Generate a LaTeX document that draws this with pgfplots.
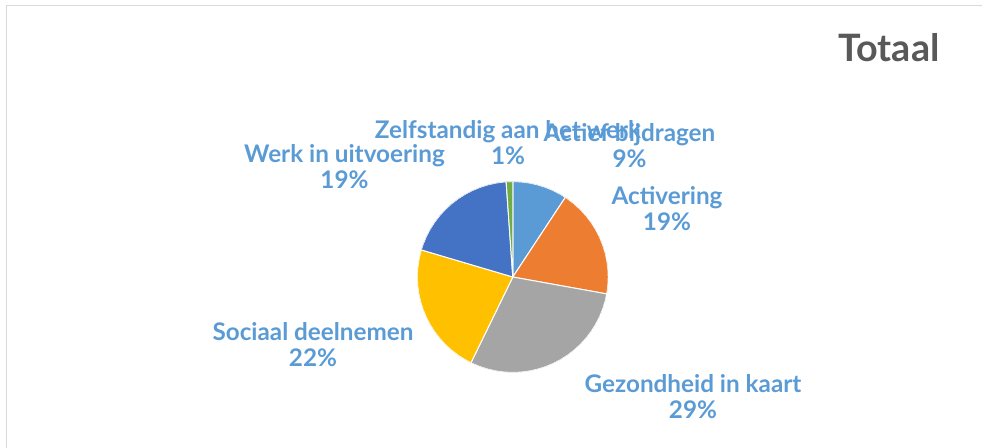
\documentclass[border=0pt]{standalone}
\usepackage{fontspec}
\setmainfont{Lato}
\usepackage{pgfplots}
\pgfplotsset{compat=1.18}
\usepgfplotslibrary{polar}
\definecolor{cA}{HTML}{5B9BD5}
\definecolor{cB}{HTML}{ED7D31}
\definecolor{cC}{HTML}{A5A5A5}
\definecolor{cD}{HTML}{FFC000}
\definecolor{cE}{HTML}{4472C4}
\definecolor{cF}{HTML}{70AD47}
\definecolor{lbl}{HTML}{5B9BD5}
\definecolor{ttl}{HTML}{595959}
\definecolor{frame}{HTML}{D9D9D9}
\begin{document}
\begin{tikzpicture}
\begin{scope}[x=0.75pt,y=-0.75pt]
\path[use as bounding box] (0,0) rectangle (982,448);
\draw[frame,line width=1.1pt] (6.5,448) -- (6.5,5.5) -- (982,5.5);
\end{scope}
\begin{polaraxis}[
  at={(384.6pt,-207.75pt)}, anchor=center,
  scale only axis, width=143.25pt, height=143.25pt,
  hide axis, xmin=0, xmax=360, ymin=0, ymax=1,
  every axis plot/.append style={draw=white, line width=0.75pt, line join=round},
]
% Actief bijdragen 9.3%
\addplot[fill=cA] coordinates {(0,0) (90,1) (85,1) (80,1) (75,1) (70,1) (65,1) (60,1) (56.6,1)} -- cycle;
% Activering 18.6%
\addplot[fill=cB] coordinates {(0,0) (56.6,1) (55,1) (50,1) (45,1) (40,1) (35,1) (30,1) (25,1) (20,1) (15,1) (10,1) (5,1) (0,1) (-5,1) (-10.2,1)} -- cycle;
% Gezondheid in kaart 29.4%
\addplot[fill=cC] coordinates {(0,0) (-10.2,1) (-15,1) (-20,1) (-25,1) (-30,1) (-35,1) (-40,1) (-45,1) (-50,1) (-55,1) (-60,1) (-65,1) (-70,1) (-75,1) (-80,1) (-85,1) (-90,1) (-95,1) (-100,1) (-105,1) (-110,1) (-115,1) (-116,1)} -- cycle;
% Sociaal deelnemen 22.4%
\addplot[fill=cD] coordinates {(0,0) (-116,1) (-120,1) (-125,1) (-130,1) (-135,1) (-140,1) (-145,1) (-150,1) (-155,1) (-160,1) (-165,1) (-170,1) (-175,1) (-180,1) (-185,1) (-190,1) (-195,1) (-196.5,1)} -- cycle;
% Werk in uitvoering 19.3%
\addplot[fill=cE] coordinates {(0,0) (-196.5,1) (-200,1) (-205,1) (-210,1) (-215,1) (-220,1) (-225,1) (-230,1) (-235,1) (-240,1) (-245,1) (-250,1) (-255,1) (-260,1) (-265,1) (-266,1)} -- cycle;
% Zelfstandig aan het werk 1.1%
\addplot[fill=cF] coordinates {(0,0) (-266,1) (-268,1) (-270,1)} -- cycle;
\end{polaraxis}
\begin{scope}[x=0.75pt,y=-0.75pt,every node/.style={text=lbl, font=\fontsize{18.2}{19.5}\selectfont\bfseries, align=center, inner sep=0pt}]
\node at (508,142.5) {Zelfstandig aan het werk\\1\%};
\node at (629.5,145.5) {Actief bijdragen\\9\%};
\node at (667,208.5) {Activering\\19\%};
\node at (344.5,166.5) {Werk in uitvoering\\19\%};
\node at (313,345) {Sociaal deelnemen\\22\%};
\node at (693,396.5) {Gezondheid in kaart\\29\%};
\node[text=ttl, font=\fontsize{28.3}{32}\selectfont\bfseries] at (889,48) {Totaal};
\end{scope}
\end{tikzpicture}
\end{document}
